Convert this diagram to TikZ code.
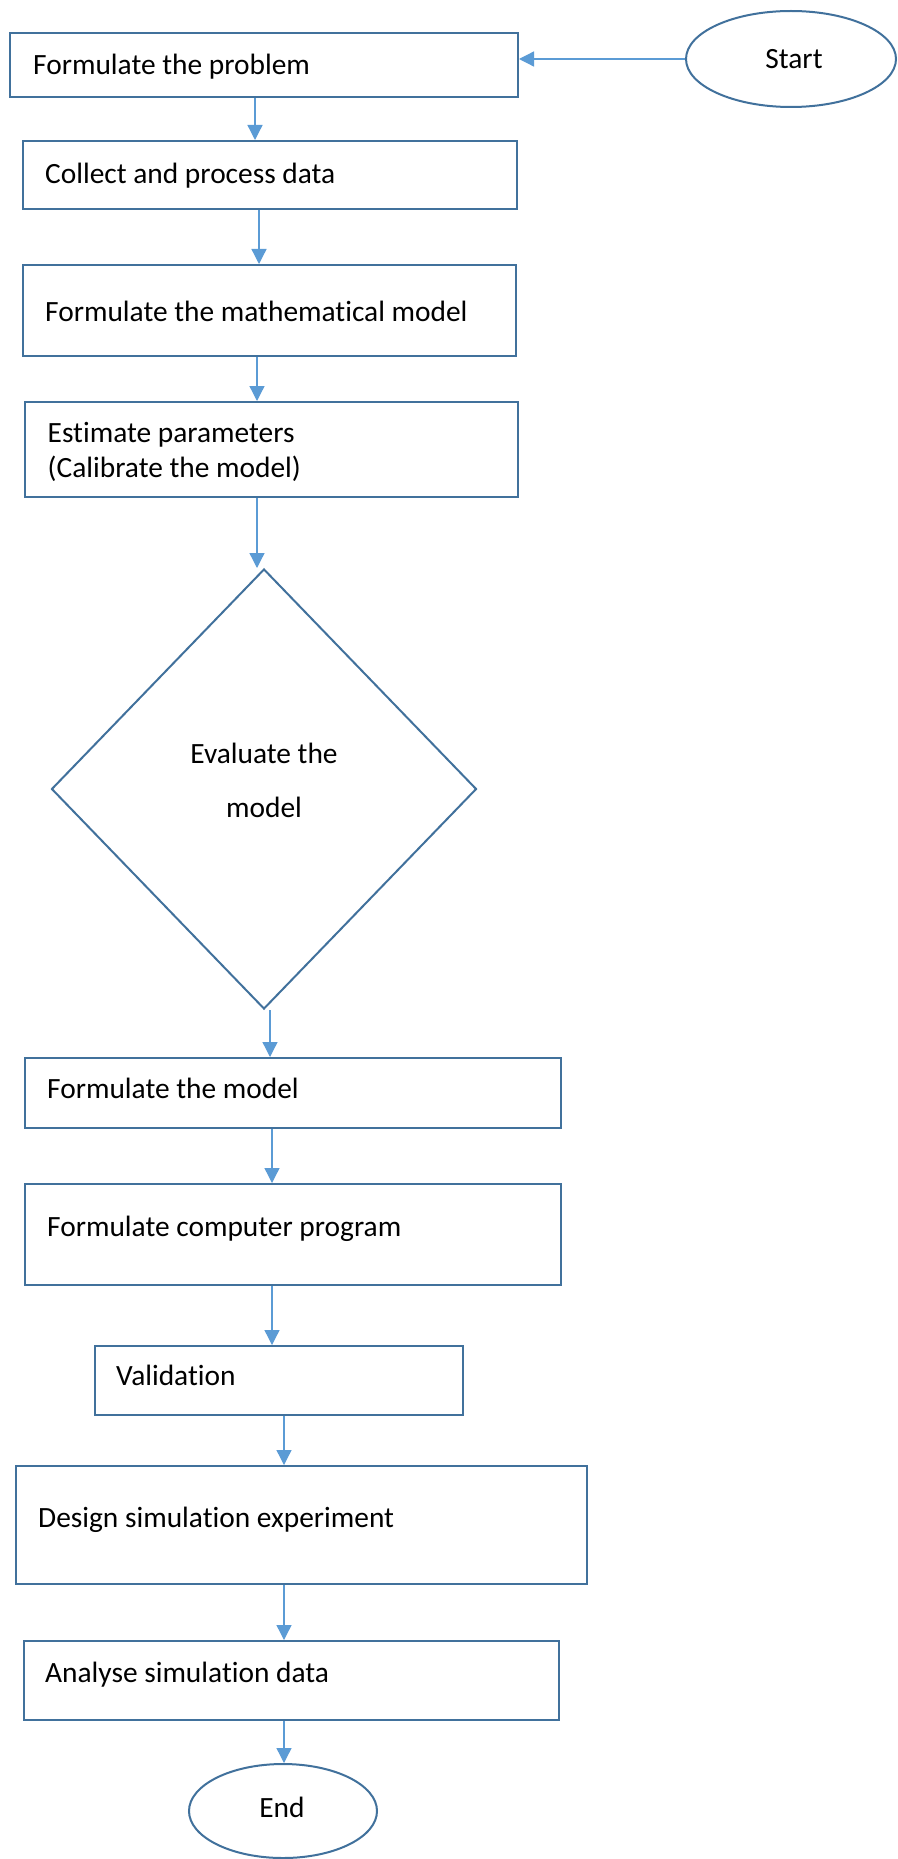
\documentclass[tikz,border=0pt]{standalone}
\usepackage{fontspec}
\setmainfont[Ligatures=NoCommon]{Carlito}
\usetikzlibrary{shapes.geometric,arrows.meta}
\definecolor{edgeblue}{HTML}{41719C}
\definecolor{flowblue}{HTML}{5B9BD5}
\begin{document}
\begin{tikzpicture}[x=1pt,y=-1pt,
  stepbox/.style={draw=edgeblue,line width=2pt,rectangle,inner sep=0pt},
  termbox/.style={draw=edgeblue,line width=2pt,ellipse,inner sep=0pt},
  decisionbox/.style={draw=edgeblue,line width=2pt,diamond,inner sep=0pt},
  txt/.style={inner sep=0pt,anchor=base west,font=\fontsize{29.4}{36}\selectfont},
  ctxt/.style={inner sep=0pt,anchor=base,font=\fontsize{29.4}{36}\selectfont},
  arr/.style={draw=flowblue,line width=1.3pt,-{Triangle[length=15pt,width=15pt]}}]
\useasboundingbox[fill=white] (0,0) rectangle (897,1859);

% terminals
\node[termbox,minimum width=210pt,minimum height=96pt] (start) at (791,59) {};
\node[ctxt] (starttxt) at (794,69) {Start};
\node[termbox,minimum width=188pt,minimum height=94pt] (finish) at (283,1811) {};
\node[ctxt] (finishtxt) at (282,1817) {End};

% process steps
\node[stepbox,minimum width=508pt,minimum height=64pt] (b1) at (264,65) {};
\node[txt] (t1) at (33,75) {Formulate the problem};
\node[stepbox,minimum width=494pt,minimum height=68pt] (b2) at (270,175) {};
\node[txt] (t2) at (45,184) {Collect and process data};
\node[stepbox,minimum width=493pt,minimum height=91pt] (b3) at (269.5,310.5) {};
\node[txt] (t3) at (45,322) {Formulate the mathematical model};
\node[stepbox,minimum width=493pt,minimum height=95pt] (b4) at (271.5,449.5) {};
\node[txt] (t4a) at (47.5,442) {Estimate parameters};
\node[txt] (t4b) at (47.5,477) {(Calibrate the model)};

% decision
\node[decisionbox,minimum width=425pt,minimum height=440pt] (d) at (264,789) {};
\node[ctxt] (td1) at (264,763) {Evaluate the};
\node[ctxt] (td2) at (264,817) {model};

\node[stepbox,minimum width=536pt,minimum height=70pt] (b5) at (293,1093) {};
\node[txt] (t5) at (47,1098) {Formulate the model};
\node[stepbox,minimum width=536pt,minimum height=101pt] (b6) at (293,1234.5) {};
\node[txt] (t6) at (47,1236) {Formulate computer program};
\node[stepbox,minimum width=368pt,minimum height=69pt] (b7) at (279,1380.5) {};
\node[txt] (t7) at (116,1385) {Validation};
\node[stepbox,minimum width=571pt,minimum height=118pt] (b8) at (301.5,1525) {};
\node[txt] (t8) at (38,1527) {Design simulation experiment};
\node[stepbox,minimum width=535pt,minimum height=79pt] (b9) at (291.5,1680.5) {};
\node[txt] (t9) at (45,1682) {Analyse simulation data};

% connectors
\draw[arr] (start.west) -- (start.west -| b1.east);
\draw[arr] ([xshift=-9pt]b1.south) -- ([xshift=-9pt]b1.south |- b2.north);
\draw[arr] ([xshift=-11pt]b2.south) -- ([xshift=-11pt]b2.south |- b3.north);
\draw[arr] ([xshift=-12.5pt]b3.south) -- ([xshift=-12.5pt]b3.south |- b4.north);
\draw[arr] ([xshift=-14.5pt]b4.south) -- ([xshift=-14.5pt]b4.south |- d.north);
\draw[arr] ([xshift=6pt]d.south) -- ([xshift=6pt]d.south |- b5.north);
\draw[arr] ([xshift=-21pt]b5.south) -- ([xshift=-21pt]b5.south |- b6.north);
\draw[arr] ([xshift=-21pt]b6.south) -- ([xshift=-21pt]b6.south |- b7.north);
\draw[arr] ([xshift=5pt]b7.south) -- ([xshift=5pt]b7.south |- b8.north);
\draw[arr] ([xshift=-17.5pt]b8.south) -- ([xshift=-17.5pt]b8.south |- b9.north);
\draw[arr] ([xshift=-7.5pt]b9.south) -- ([xshift=-7.5pt]b9.south |- finish.north);
\end{tikzpicture}
\end{document}
